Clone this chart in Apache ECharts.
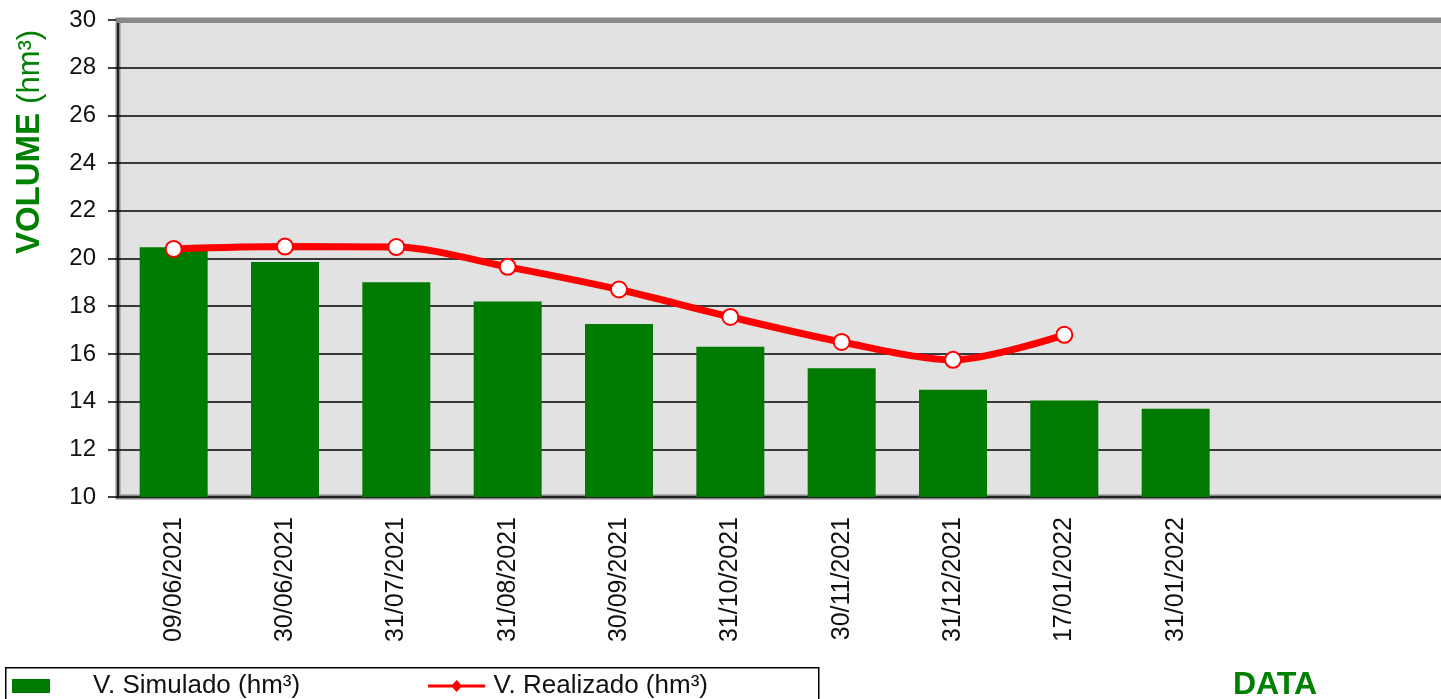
<!DOCTYPE html>
<html><head><meta charset="utf-8">
<script src="https://cdn.jsdelivr.net/npm/echarts@6/dist/echarts.min.js"></script>
<style>html,body{margin:0;padding:0;background:#fff}#c{width:1441px;height:699px}</style>
</head><body><div id="c"></div>
<script>
const categories = ['09/06/2021','30/06/2021','31/07/2021','31/08/2021','30/09/2021','31/10/2021','30/11/2021','31/12/2021','17/01/2022','31/01/2022','',' '];
const simulado = [20.47, 19.85, 19.0, 18.2, 17.25, 16.3, 15.4, 14.5, 14.05, 13.7, null, null];
const realizado = [20.4, 20.5, 20.48, 19.65, 18.7, 17.55, 16.5, 15.75, 16.8, null, null, null];
const yTicks = {min: 10, max: 30, interval: 2};

const chart = echarts.init(document.getElementById('c'), null, {renderer: 'canvas'});
const font = '"Liberation Sans", Arial, sans-serif';
const green = '#008000';
chart.setOption({
  animation: false,
  backgroundColor: '#ffffff',
  grid: {left: 118, width: 1336, top: 20, height: 477, outerBoundsMode: 'none', containLabel: false,
         show: true, backgroundColor: '#e2e2e2', borderColor: '#888888', borderWidth: 5},
  xAxis: {
    type: 'category', data: categories, boundaryGap: true,
    axisLine: {show: true, lineStyle: {color: '#222', width: 2}},
    axisTick: {show: false},
    axisLabel: {rotate: 90, fontSize: 25, fontFamily: font, color: '#111', margin: 20, interval: 0}
  },
  yAxis: {
    type: 'value', min: yTicks.min, max: yTicks.max, interval: yTicks.interval,
    axisLine: {show: true, lineStyle: {color: '#222', width: 2}},
    axisTick: {show: true, inside: false, length: 10, lineStyle: {color: '#000', width: 1.5}},
    splitLine: {show: true, lineStyle: {color: '#000', width: 1.5}},
    axisLabel: {fontSize: 24, fontFamily: font, color: '#111', margin: 22}
  },
  legend: [
    {data: ['V. Simulado (hm³)'], left: 7, top: 668, itemWidth: 38, itemHeight: 14, icon: 'rect',
     textStyle: {fontSize: 26, fontFamily: font, color: '#111', padding: [0, 0, 0, 38]}},
    {data: ['V. Realizado (hm³)'], left: 423, top: 668, itemWidth: 62, itemHeight: 12,
     icon: 'path://M0,5 L62,5 L62,8 L0,8 Z M31,0 L37,6.5 L31,13 L25,6.5 Z',
     itemStyle: {color: '#ff0000', borderWidth: 0},
     textStyle: {fontSize: 26, fontFamily: font, color: '#111', padding: [0, 0, 0, 1]}}
  ],
  graphic: [
    {type: 'rect', left: 5, top: 667, z: 0, shape: {width: 813, height: 40}, style: {fill: '#fff', stroke: '#000', lineWidth: 1.5}},
    {type: 'rect', x: 116, y: 18, z: 20, shape: {width: 1330, height: 5}, style: {fill: '#888888'}},
    {type: 'text', x: 30, y: 142, rotation: Math.PI / 2, z: 10,
     style: {text: '{b|VOLUME}{s| }{n|(hm³)}', align: 'center', verticalAlign: 'middle',
       rich: {b: {fontSize: 33, fontWeight: 'bold', fontFamily: font, fill: green},
              s: {fontSize: 33, width: 9},
              n: {fontSize: 31, fontFamily: font, fill: green}}}},
    {type: 'text', x: 1275, y: 685, z: 10,
     style: {text: 'DATA', align: 'center', verticalAlign: 'middle', fontSize: 32, fontWeight: 'bold', fontFamily: font, fill: green}}
  ],
  series: [
    {name: 'V. Simulado (hm³)', type: 'bar', data: simulado, barWidth: 68, itemStyle: {color: '#007a00'}, z: 2},
    {name: 'V. Realizado (hm³)', type: 'line', data: realizado, smooth: 0.3, connectNulls: false,
     lineStyle: {color: '#ff0000', width: 7}, symbol: 'circle', symbolSize: 16,
     itemStyle: {color: '#ffffff', borderColor: '#ff0000', borderWidth: 2}, z: 3}
  ]
});
</script></body></html>
